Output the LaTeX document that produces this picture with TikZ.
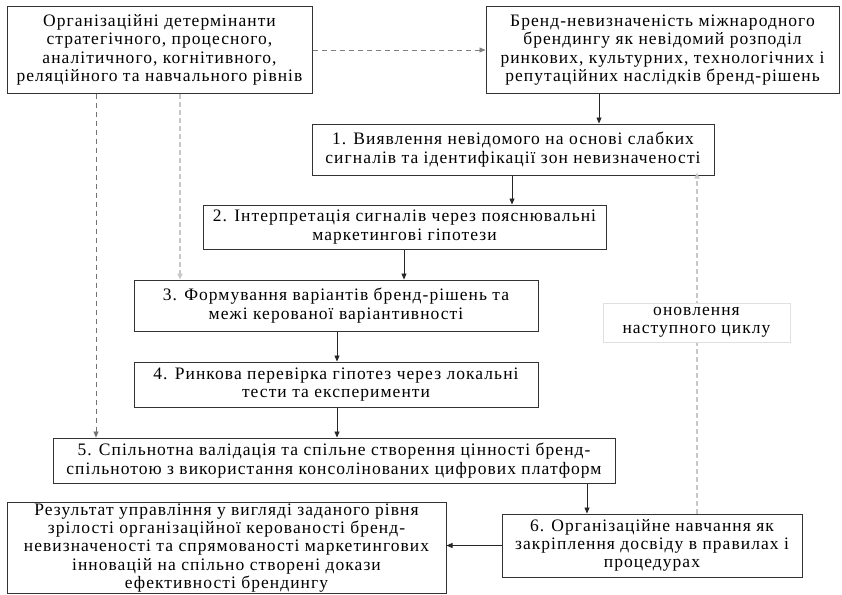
\documentclass[tikz,border=0pt]{standalone}
\usepackage{fontspec}
\setmainfont{Liberation Serif}
\usetikzlibrary{arrows.meta}
\begin{document}
\begin{tikzpicture}[x=1pt,y=-1pt,
  txt/.style={font=\fontsize{17.5}{18.3}\selectfont\addfontfeature{LetterSpace=6}},
  box/.style={txt,draw=black!80,line width=1pt,fill=white,align=center,inner sep=1pt},
  arr/.style={-{Triangle[length=6pt,width=5pt]},line width=0.8pt,draw=black!85},
  darr/.style={-{Triangle[length=6pt,width=5pt]},line width=0.8pt,draw=black!50,dash pattern=on 5pt off 4pt},
  larr/.style={-{Triangle[length=6pt,width=5pt]},line width=1.6pt,draw=black!22,dash pattern=on 5pt off 3pt}]
\useasboundingbox (0,0) rectangle (842,594);
\fill[white] (0,0) rectangle (842,594);

\node[box,minimum width=305pt,minimum height=86pt] (org) at (159.5,50)
 {Організаційні детермінанти\\стратегічного, процесного,\\аналітичного, когнітивного,\\реляційного та навчального рівнів};
\node[box,minimum width=353pt,minimum height=86pt] (unc) at (662.5,50)
 {Бренд-невизначеність міжнародного\\брендингу як невідомий розподіл\\ринкових, культурних, технологічних і\\репутаційних наслідків бренд-рішень};
\node[box,minimum width=402pt,minimum height=51pt] (s1) at (513,149.5)
 {1. Виявлення невідомого на основі слабких\\сигналів та ідентифікації зон невизначеності};
\node[box,minimum width=403pt,minimum height=44pt] (s2) at (404.5,227)
 {2. Інтерпретація сигналів через пояснювальні\\маркетингові гіпотези};
\node[box,minimum width=404pt,minimum height=51pt] (s3) at (336,305.5)
 {3. Формування варіантів бренд-рішень та\\межі керованої варіантивності};
\node[box,minimum width=404pt,minimum height=45pt] (s4) at (336,384.5)
 {4. Ринкова перевірка гіпотез через локальні\\тести та експерименти};
\node[box,minimum width=562pt,minimum height=45pt] (s5) at (334,460.5)
 {5. Спільнотна валідація та спільне створення цінності бренд-\\спільнотою з використання консолінованих цифрових платформ};
\node[box,minimum width=439pt,minimum height=91pt] (res) at (226.5,548)
 {Результат управління у вигляді заданого рівня\\зрілості організаційної керованості бренд-\\невизначеності та спрямованості маркетингових\\інновацій на спільно створені докази\\ефективності брендингу};
\node[box,minimum width=300pt,minimum height=63pt] (s6) at (652,545.5)
 {6. Організаційне навчання як\\закріплення досвіду в правилах і\\процедурах};

% connectors
\draw[darr] (org.east) -- (unc.west);
\draw[arr] (unc.south -| 599,0) -- (s1.north -| 599,0);
\draw[arr] (s1.south -| 512,0) -- (s2.north -| 512,0);
\draw[arr] (s2.south -| 404,0) -- (s3.north -| 404,0);
\draw[arr] (s3.south -| 337,0) -- (s4.north -| 337,0);
\draw[arr] (s4.south -| 337,0) -- (s5.north -| 337,0);
\draw[arr] (s5.south -| 587,0) -- (s6.north -| 587,0);
\draw[arr] (s6.west) -- (res.east |- s6.west);
\draw[darr,draw=black!55] (org.south -| 96,0) -- (s5.north -| 96,0);
\draw[larr] (org.south -| 180,0) -- (s3.north -| 180,0);
\draw[larr] (s6.north -| 697,0) -- ([yshift=3pt]s1.south -| 697,0);

\node[txt,draw=black!12,fill=white,line width=0.6pt,minimum width=187pt,minimum height=39pt,align=center,inner sep=1pt] (lbl) at (696.5,322.5)
 {оновлення\\наступного циклу};
\end{tikzpicture}
\end{document}
